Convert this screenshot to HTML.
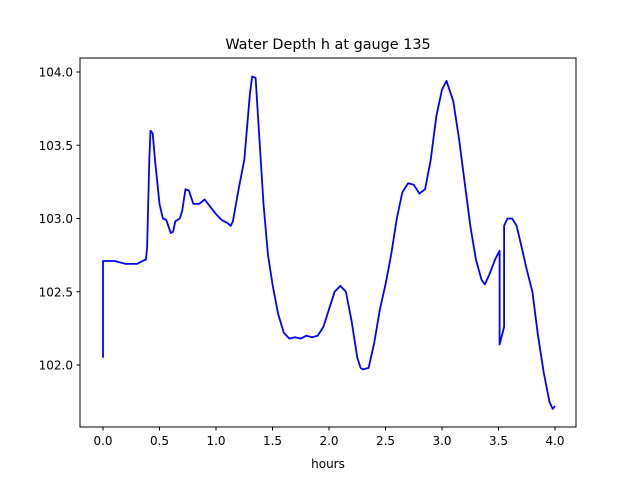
<!DOCTYPE html>
<html><head><meta charset="utf-8"><style>
body{margin:0;background:#fff;}
svg text{font-family:"DejaVu Sans","Liberation Sans",sans-serif;fill:#000;}
</style></head><body>
<svg id="chart" width="640" height="480" xmlns="http://www.w3.org/2000/svg">
<rect width="640" height="480" fill="#fff"/>
<text x="328" y="49" font-size="14.4" text-anchor="middle">Water Depth h at gauge 135</text>
<text x="328" y="468" font-size="12" text-anchor="middle">hours</text>
<g id="axes"></g>
<path id="series" fill="none" stroke="#0000ff" stroke-width="1.8" stroke-linejoin="round"/>
<rect x="80" y="58" width="496" height="369" fill="none" stroke="#000" stroke-width="1"/>
</svg>
<script>
const hours=[0,0,0.1,0.15,0.2,0.3,0.35,0.38,0.39,0.41,0.42,0.44,0.46,0.5,0.53,0.56,0.6,0.62,0.64,0.68,0.7,0.73,0.76,0.8,0.85,0.9,0.95,1.0,1.05,1.1,1.13,1.15,1.2,1.25,1.3,1.32,1.35,1.38,1.42,1.46,1.5,1.55,1.6,1.65,1.7,1.75,1.8,1.85,1.9,1.95,2.0,2.05,2.1,2.15,2.2,2.25,2.28,2.3,2.35,2.4,2.45,2.5,2.55,2.6,2.65,2.7,2.75,2.8,2.85,2.9,2.95,3.0,3.04,3.1,3.15,3.2,3.25,3.3,3.35,3.38,3.42,3.47,3.51,3.51,3.55,3.55,3.58,3.62,3.66,3.7,3.75,3.8,3.85,3.9,3.95,3.98,4.0];
const depth=[102.05,102.71,102.71,102.70,102.69,102.69,102.71,102.72,102.8,103.4,103.6,103.58,103.4,103.1,103.0,102.99,102.9,102.91,102.98,103.0,103.05,103.2,103.19,103.1,103.1,103.13,103.08,103.03,102.99,102.97,102.95,102.98,103.2,103.4,103.85,103.97,103.96,103.6,103.1,102.75,102.55,102.35,102.22,102.18,102.19,102.18,102.2,102.19,102.2,102.26,102.38,102.5,102.54,102.5,102.3,102.05,101.98,101.97,101.98,102.15,102.38,102.55,102.75,103.0,103.18,103.24,103.23,103.17,103.2,103.4,103.7,103.88,103.94,103.8,103.55,103.25,102.95,102.72,102.58,102.55,102.62,102.72,102.78,102.14,102.26,102.95,103.0,103.0,102.95,102.82,102.65,102.5,102.2,101.95,101.75,101.7,101.72];
const xTicks=[0,0.5,1,1.5,2,2.5,3,3.5,4];
const yTicks=[102,102.5,103,103.5,104];
const X=v=>103+(v-0)*113;
const Y=v=>72+(104-v)*146.5;
const ns="http://www.w3.org/2000/svg";
const ax=document.getElementById('axes');
xTicks.forEach(t=>{
  const l=document.createElementNS(ns,'line');
  
  
  l.setAttribute('x1',X(t));l.setAttribute('x2',X(t));l.setAttribute('y1',427);l.setAttribute('y2',430.5);l.setAttribute('stroke','#000');
  ax.appendChild(l);
  const tx=document.createElementNS(ns,'text');
  
  
  tx.setAttribute('x',X(t));tx.setAttribute('y',445);tx.setAttribute('font-size','12');tx.setAttribute('text-anchor','middle');
  tx.textContent=t.toFixed(1);ax.appendChild(tx);
});
yTicks.forEach(t=>{
  const l=document.createElementNS(ns,'line');
  
  
  l.setAttribute('x1',76.5);l.setAttribute('x2',80);l.setAttribute('y1',Y(t));l.setAttribute('y2',Y(t));l.setAttribute('stroke','#000');
  ax.appendChild(l);
  const tx=document.createElementNS(ns,'text');
  
  
  tx.setAttribute('x',73);tx.setAttribute('y',Y(t)+4.5);tx.setAttribute('font-size','12');tx.setAttribute('text-anchor','end');
  tx.textContent=t.toFixed(1);ax.appendChild(tx);
});
document.getElementById('series').setAttribute('d',hours.map((h,i)=>(i?'L':'M')+X(h).toFixed(1)+','+Y(depth[i]).toFixed(1)).join(''));
</script>
</body></html>
